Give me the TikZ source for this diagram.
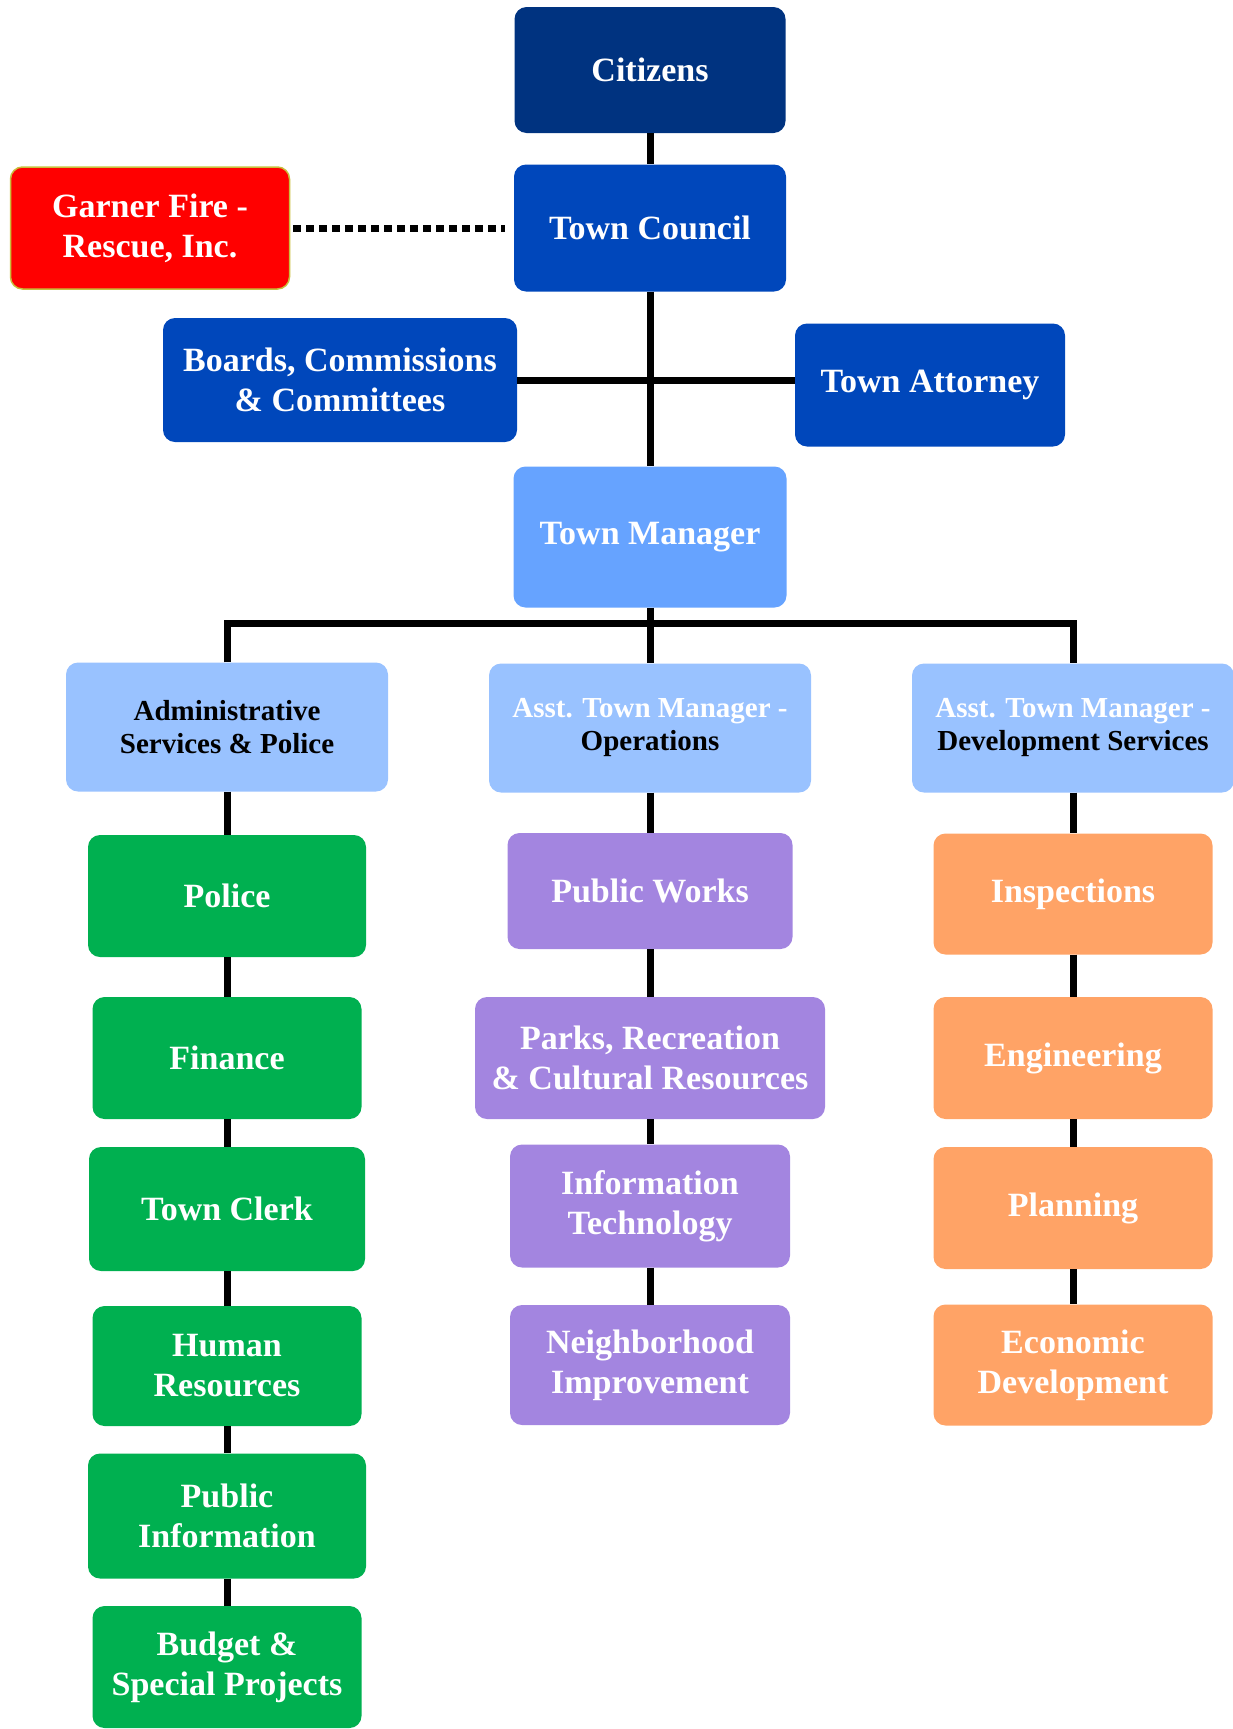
\documentclass[tikz,border=0pt]{standalone}
\usepackage{fontspec}
\setmainfont{Liberation Serif}
\definecolor{navy}{RGB}{0,51,128}
\definecolor{royal}{RGB}{0,71,187}
\definecolor{sky}{RGB}{102,163,255}
\definecolor{pale}{RGB}{153,194,255}
\definecolor{leaf}{RGB}{0,176,80}
\definecolor{lilac}{RGB}{163,133,224}
\definecolor{peach}{RGB}{255,163,102}
\definecolor{fireedge}{RGB}{200,190,60}
\tikzstyle{box}=[rectangle,rounded corners=12pt,align=center,text=white,inner sep=0pt,font=\fontsize{34}{40}\selectfont\bfseries]
\tikzstyle{head}=[box,fill=pale,minimum width=322pt,minimum height=129pt,font=\fontsize{29}{33}\selectfont\bfseries]
\tikzstyle{dept}=[box,minimum width=278pt,minimum height=122pt]
\tikzstyle{link}=[line width=7pt]

\begin{document}
\begin{tikzpicture}[x=1pt,y=-1pt]
  \useasboundingbox (0,0) rectangle (1233,1729);
  \node[box, fill=navy, minimum width=271pt, minimum height=126pt] (citizens) at (650,70) {Citizens};
  \node[box, fill=royal, minimum width=272pt, minimum height=127pt] (council) at (650,228) {Town Council};
  \node[box, fill=red, draw=fireedge, line width=1.5pt, minimum width=279pt, minimum height=122pt] (fire) at (150,228) {Garner Fire -\\Rescue, Inc.};
  \node[box, fill=royal, minimum width=354pt, minimum height=124pt] (boards) at (340,380) {Boards, Commissions\\\& Committees};
  \node[box, fill=royal, minimum width=270pt, minimum height=123pt] (attorney) at (930,385) {Town Attorney};
  \node[box, fill=sky, minimum width=273pt, minimum height=141pt] (manager) at (650,537) {Town Manager};
  \coordinate (bus) at (650,623);
  \node[head, text=black] (admin) at (227,727) {Administrative\\Services \& Police};
  \node[head] (opsmgr) at (650,728) {Asst. Town Manager -\\\textcolor{black}{Operations}};
  \node[head] (devmgr) at (1073,728) {Asst. Town Manager -\\\textcolor{black}{Development Services}};

  \node[dept, fill=leaf] (police) at (227,896) {Police};
  \node[dept, fill=leaf, minimum width=269pt] (finance) at (227,1058) {Finance};
  \node[dept, fill=leaf, minimum width=276pt, minimum height=124pt] (clerk) at (227,1209) {Town Clerk};
  \node[dept, fill=leaf, minimum width=269pt, minimum height=120pt] (hr) at (227,1366) {Human\\Resources};
  \node[dept, fill=leaf, minimum height=125pt] (pubinfo) at (227,1516) {Public\\Information};
  \node[dept, fill=leaf, minimum width=269pt] (budget) at (227,1667) {Budget \&\\Special Projects};

  \node[dept, fill=lilac, minimum width=285pt, minimum height=116pt] (works) at (650,891) {Public Works};
  \node[dept, fill=lilac, minimum width=350pt] (parks) at (650,1058) {Parks, Recreation\\\& Cultural Resources};
  \node[dept, fill=lilac, minimum width=280pt, minimum height=123pt] (infotech) at (650,1206) {Information\\Technology};
  \node[dept, fill=lilac, minimum width=280pt, minimum height=120pt] (neighbor) at (650,1365) {Neighborhood\\Improvement};

  \node[dept, fill=peach, minimum width=279pt, minimum height=121pt] (inspect) at (1073,894) {Inspections};
  \node[dept, fill=peach, minimum width=279pt] (engineer) at (1073,1058) {Engineering};
  \node[dept, fill=peach, minimum width=279pt] (planning) at (1073,1208) {Planning};
  \node[dept, fill=peach, minimum width=279pt, minimum height=121pt] (econdev) at (1073,1365) {Economic\\Development};

  \draw[link] (citizens) -- (council);
  \draw[link] (council) -- (manager);
  \draw[link] (boards.east) -- (boards.east -| attorney.west);
  \draw[link, dash pattern=on 8pt off 5pt, shorten <=3pt, shorten >=9pt] (fire) -- (council);
  \draw[link] (manager) -- (opsmgr);
  \draw[link] (admin.north) |- (bus) -| (devmgr.north);
  \foreach \a/\b in {admin/police, police/finance, finance/clerk, clerk/hr, hr/pubinfo, pubinfo/budget,
    opsmgr/works, works/parks, parks/infotech, infotech/neighbor,
    devmgr/inspect, inspect/engineer, engineer/planning, planning/econdev}
    \draw[link] (\a) -- (\b);
\end{tikzpicture}
\end{document}
